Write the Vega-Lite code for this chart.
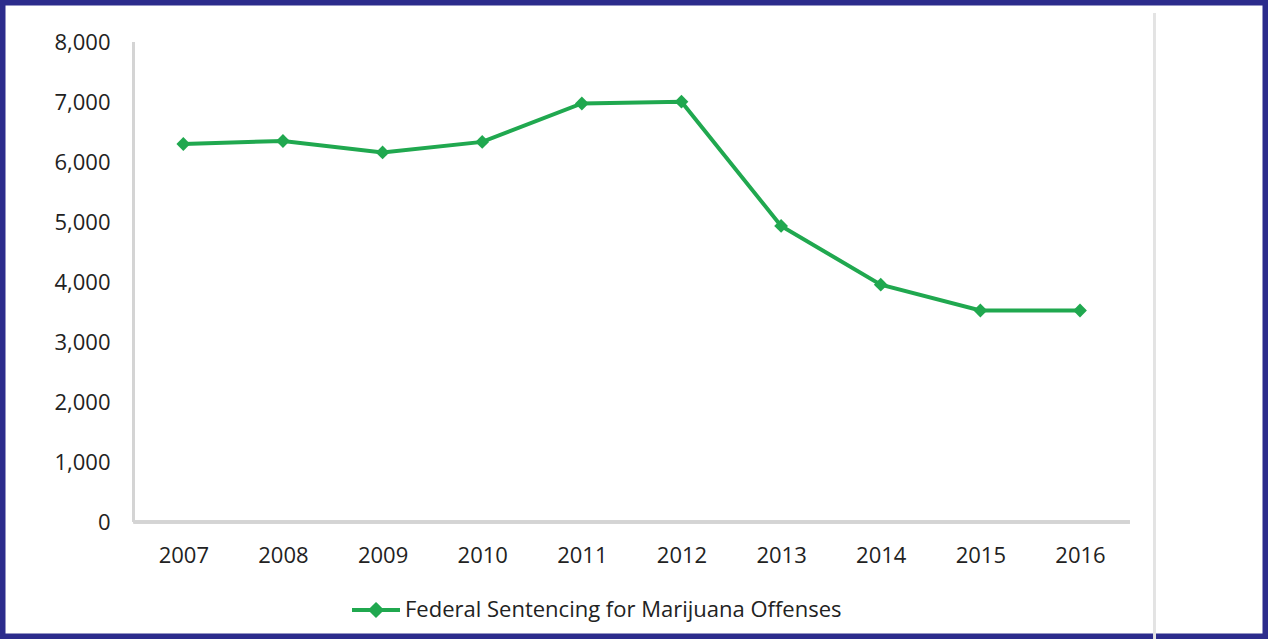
{
  "$schema": "https://vega.github.io/schema/vega-lite/v6.json",
  "width": 1268,
  "height": 639,
  "autosize": {"type": "none"},
  "padding": 0,
  "background": "white",
  "config": {
    "view": {"stroke": "#2c2c8c", "strokeWidth": 11},
    "font": "Open Sans",
    "axis": {"labelFont": "Open Sans", "labelFontSize": 22, "labelColor": "#222222", "grid": false, "domain": false, "ticks": false, "tickSize": 0, "title": null}
  },
  "data": {
    "values": [
      {"Year": 2007, "Sentences": 6300, "series": "Federal Sentencing for Marijuana Offenses"},
      {"Year": 2008, "Sentences": 6350, "series": "Federal Sentencing for Marijuana Offenses"},
      {"Year": 2009, "Sentences": 6160, "series": "Federal Sentencing for Marijuana Offenses"},
      {"Year": 2010, "Sentences": 6335, "series": "Federal Sentencing for Marijuana Offenses"},
      {"Year": 2011, "Sentences": 6975, "series": "Federal Sentencing for Marijuana Offenses"},
      {"Year": 2012, "Sentences": 7005, "series": "Federal Sentencing for Marijuana Offenses"},
      {"Year": 2013, "Sentences": 4935, "series": "Federal Sentencing for Marijuana Offenses"},
      {"Year": 2014, "Sentences": 3955, "series": "Federal Sentencing for Marijuana Offenses"},
      {"Year": 2015, "Sentences": 3525, "series": "Federal Sentencing for Marijuana Offenses"},
      {"Year": 2016, "Sentences": 3525, "series": "Federal Sentencing for Marijuana Offenses"}
    ]
  },
  "layer": [
    {
      "mark": {"type": "rule", "color": "#e3e3e3", "strokeWidth": 2},
      "encoding": {
        "x": {"datum": 2016.75, "type": "quantitative"},
        "y": {"datum": 8480, "type": "quantitative"},
        "y2": {"datum": -1950}
      }
    },
    {
      "mark": {"type": "rule", "color": "#d4d4d4", "strokeWidth": 2.5},
      "encoding": {
        "x": {"datum": 2006.5, "type": "quantitative"},
        "y": {"datum": 0, "type": "quantitative"},
        "y2": {"datum": 8000}
      }
    },
    {
      "mark": {"type": "rule", "color": "#d4d4d4", "strokeWidth": 2.5},
      "encoding": {
        "x": {"datum": 2006.5, "type": "quantitative"},
        "x2": {"datum": 2016.5},
        "y": {"datum": 0, "type": "quantitative"}
      }
    },
    {
      "mark": {"type": "line", "strokeWidth": 4},
      "encoding": {
        "x": {
          "field": "Year", "type": "quantitative",
          "scale": {"domain": [2005.16, 2017.887], "nice": false, "zero": false},
          "axis": {"values": [2007, 2008, 2009, 2010, 2011, 2012, 2013, 2014, 2015, 2016], "format": "d", "offset": -117, "labelPadding": 23, "labelFlush": false, "labelOverlap": false}
        },
        "y": {
          "field": "Sentences", "type": "quantitative",
          "scale": {"domain": [-1950, 8700], "nice": false, "zero": false},
          "axis": {"values": [0, 1000, 2000, 3000, 4000, 5000, 6000, 7000, 8000], "format": ",.0f", "offset": -134, "labelPadding": 24}
        },
        "color": {
          "field": "series", "type": "nominal",
          "scale": {"range": ["#20a84f"]},
          "legend": {
            "title": null,
            "orient": "none",
            "legendX": 350,
            "legendY": 584,
            "padding": 0,
            "labelFont": "Open Sans",
            "labelFontSize": 22,
            "labelColor": "#222222",
            "labelOffset": 3,
            "labelLimit": 800,
            "symbolType": "M -1 0 L 1 0 M 0 -0.22 L 0.22 0 L 0 0.22 L -0.22 0 Z",
            "symbolSize": 2304,
            "symbolStrokeWidth": 4,
            "symbolStrokeColor": "#20a84f",
            "symbolFillColor": "#20a84f"
          }
        }
      }
    },
    {
      "mark": {"type": "point", "shape": "diamond", "filled": true, "size": 190, "opacity": 1},
      "encoding": {
        "x": {"field": "Year", "type": "quantitative"},
        "y": {"field": "Sentences", "type": "quantitative"},
        "color": {"field": "series", "type": "nominal"}
      }
    }
  ]
}
